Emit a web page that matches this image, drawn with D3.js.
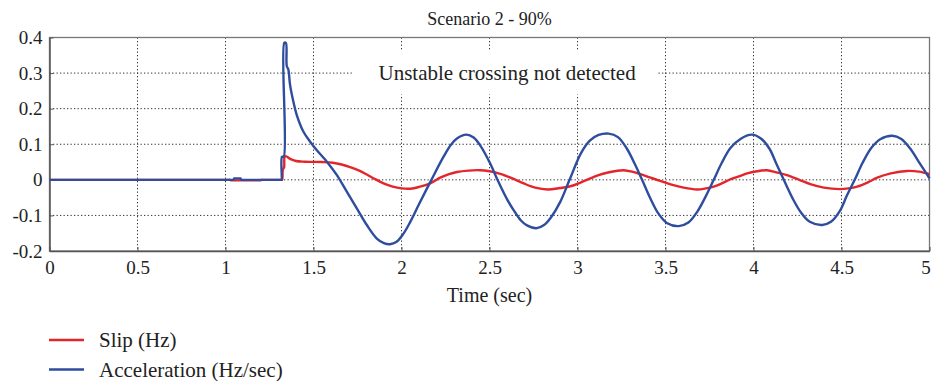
<!DOCTYPE html>
<html><head><meta charset="utf-8">
<script src="https://cdn.jsdelivr.net/npm/d3@7"></script>
<style>body{margin:0;background:#fff}svg{display:block}text{font-family:"Liberation Serif","Times New Roman",serif;fill:#222}</style>
</head><body><svg id="c" width="931" height="381"></svg>
<script>
const title = "Scenario 2 - 90%";
const xLabel = "Time (sec)";
const annotation = "Unstable crossing not detected";
const seriesNames = ["Slip (Hz)", "Acceleration (Hz/sec)"];
const xTicks = [0, 0.5, 1, 1.5, 2, 2.5, 3, 3.5, 4, 4.5, 5];
const yTicks = [-0.2, -0.1, 0, 0.1, 0.2, 0.3, 0.4];
const xTickLabels = ["0","0.5","1","1.5","2","2.5","3","3.5","4","4.5","5"];
const yTickLabels = ["-0.2","-0.1","0","0.1","0.2","0.3","0.4"];

const slipTime = [0,0.5,1.0,1.02,1.025,1.03,1.035,1.1,1.195,1.2,1.205,1.21,1.26,1.31,1.318,1.322,1.326,1.333,1.336,1.345,1.37,1.40,1.45,1.55,1.61,1.66,1.708,1.76,1.803,1.85,1.898,1.95,2.0,2.05,2.10,2.163,2.22,2.27,2.315,2.38,2.447,2.50,2.561,2.63,2.694,2.76,2.83,2.90,2.96,3.02,3.073,3.12,3.168,3.22,3.262,3.31,3.357,3.41,3.47,3.54,3.603,3.68,3.73,3.774,3.82,3.868,3.926,3.964,4.02,4.077,4.13,4.19,4.26,4.323,4.40,4.49,4.54,4.589,4.65,4.703,4.78,4.873,4.94,5.0];
const slipValues = [0,0,0,0,0,-0.0015,-0.0015,-0.0015,-0.0015,-0.0015,0,0,0,0,0,0,0.03,0.035,0.065,0.066,0.058,0.053,0.051,0.050,0.048,0.043,0.036,0.026,0.015,0.002,-0.010,-0.019,-0.024,-0.025,-0.020,-0.010,0.006,0.016,0.022,0.026,0.027,0.024,0.017,0.004,-0.010,-0.022,-0.027,-0.023,-0.018,-0.007,0.004,0.013,0.020,0.025,0.027,0.023,0.016,0.007,-0.003,-0.014,-0.022,-0.027,-0.024,-0.019,-0.010,0.001,0.011,0.018,0.024,0.027,0.021,0.013,0.0,-0.012,-0.022,-0.026,-0.024,-0.019,-0.007,0.006,0.018,0.025,0.023,0.016];

const accelTime = [0,0.5,1.0,1.04,1.045,1.05,1.055,1.08,1.085,1.09,1.095,1.2,1.3,1.315,1.318,1.321,1.331,1.334,1.343,1.348,1.357,1.367,1.386,1.405,1.443,1.481,1.519,1.576,1.633,1.69,1.746,1.803,1.86,1.90,1.935,1.97,2.01,2.05,2.10,2.17,2.239,2.28,2.315,2.368,2.41,2.447,2.504,2.55,2.60,2.637,2.68,2.713,2.766,2.81,2.85,2.902,2.955,3.02,3.07,3.12,3.177,3.23,3.28,3.325,3.367,3.41,3.46,3.51,3.575,3.63,3.68,3.73,3.774,3.82,3.87,3.926,3.99,4.04,4.09,4.13,4.172,4.22,4.27,4.32,4.39,4.44,4.49,4.53,4.575,4.62,4.67,4.72,4.788,4.84,4.89,4.94,5.0];
const accelValues = [0,0,0,0,0,0.004,0.004,0.004,0.004,0,0,0,0,0,0,0.065,0.065,0.385,0.385,0.32,0.31,0.266,0.219,0.182,0.135,0.107,0.083,0.051,0.013,-0.034,-0.080,-0.127,-0.165,-0.178,-0.181,-0.175,-0.152,-0.118,-0.068,0.0,0.065,0.098,0.116,0.127,0.119,0.097,0.046,-0.005,-0.055,-0.085,-0.115,-0.128,-0.136,-0.127,-0.105,-0.062,0.0,0.075,0.110,0.126,0.130,0.120,0.088,0.045,0.0,-0.048,-0.095,-0.122,-0.130,-0.120,-0.090,-0.045,0.0,0.048,0.090,0.115,0.127,0.117,0.088,0.045,0.0,-0.050,-0.092,-0.118,-0.127,-0.118,-0.088,-0.045,0.0,0.048,0.090,0.114,0.124,0.115,0.088,0.050,0.004];

const colors = ["#e3262b", "#2f4d9e"];

const svg = d3.select("#c");
const L = 49.5, R = 929.5, T = 37.5, B = 251;
const x = d3.scaleLinear().domain([0, 5]).range([L, R]);
const y = d3.scaleLinear().domain([-0.2, 0.4]).range([B, T]);

// grid
const grid = svg.append("g").attr("stroke", "#333").attr("stroke-width", 1).attr("stroke-dasharray", "1.3,2.2");
xTicks.slice(1, -1).forEach(t => grid.append("line").attr("x1", x(t)).attr("x2", x(t)).attr("y1", T).attr("y2", B));
yTicks.slice(1, -1).forEach(t => grid.append("line").attr("x1", L).attr("x2", R).attr("y1", y(t)).attr("y2", y(t)));

// annotation box
svg.append("rect").attr("x", x(1.728)).attr("y", y(0.362)).attr("width", x(3.455) - x(1.728)).attr("height", y(0.24) - y(0.362)).attr("fill", "#fff");
svg.append("text").attr("x", x(2.6)).attr("y", y(0.3) + 7).attr("text-anchor", "middle").style("font-size", "21px").text(annotation);

// frame
svg.append("rect").attr("x", L).attr("y", T).attr("width", R - L).attr("height", B - T).attr("fill", "none").attr("stroke", "#777").attr("stroke-width", 1.3);

// axes
const xAxis = d3.axisBottom(x).tickValues(xTicks).tickFormat((d, i) => xTickLabels[i]).tickSizeInner(-4).tickSizeOuter(0).tickPadding(10);
const gx = svg.append("g").attr("transform", `translate(0,${B})`).call(xAxis);
const yAxis = d3.axisLeft(y).tickValues(yTicks).tickFormat((d, i) => yTickLabels[i]).tickSizeInner(-4).tickSizeOuter(0).tickPadding(7);
const gy = svg.append("g").attr("transform", `translate(${L},0)`).call(yAxis);
[gx, gy].forEach(g => {
  g.attr("font-family", null).attr("font-size", null);
  g.select(".domain").attr("stroke", "#555").attr("stroke-width", 1.5);
  g.selectAll(".tick line").attr("stroke", "#555");
  g.selectAll("text").style("font-size", "19px").attr("fill", "#222");
});
gx.selectAll(".tick text").filter((d, i) => i === xTicks.length - 1).attr("dx", "-4");

// lines
const line = d3.line().x(d => x(d[0])).y(d => y(d[1])).curve(d3.curveCatmullRom.alpha(0.5));
const slip = slipTime.map((t, i) => [t, slipValues[i]]);
const accel = accelTime.map((t, i) => [t, accelValues[i]]);
svg.append("path").datum(slip).attr("d", line).attr("fill", "none").attr("stroke", colors[0]).attr("stroke-width", 2.4);
svg.append("path").datum(accel).attr("d", line).attr("fill", "none").attr("stroke", colors[1]).attr("stroke-width", 2.4);

// title & label
svg.append("text").attr("x", (L + R) / 2).attr("y", 25).attr("text-anchor", "middle").style("font-size", "18px").text(title);
svg.append("text").attr("x", (L + R) / 2).attr("y", 302).attr("text-anchor", "middle").style("font-size", "20px").text(xLabel);

// legend
const leg = svg.append("g");
seriesNames.forEach((n, i) => {
  const yy = 340 + i * 29.5;
  leg.append("line").attr("x1", 49).attr("x2", 84).attr("y1", yy).attr("y2", yy).attr("stroke", colors[i]).attr("stroke-width", 2.6);
  leg.append("text").attr("x", 99).attr("y", yy + 7).style("font-size", "21px").text(n);
});
</script></body></html>
